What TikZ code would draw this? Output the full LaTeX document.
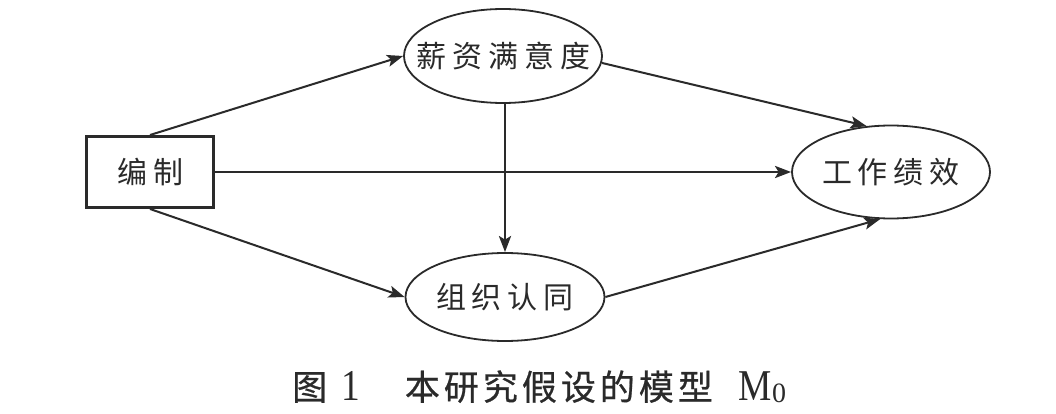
\documentclass[tikz,border=0pt]{standalone}
\usepackage{fontspec}
\setmainfont{Liberation Serif}
\newfontfamily\cjk{Noto Sans CJK SC}
\newfontfamily\cjkcap[FakeBold=0.6]{Noto Sans CJK SC}
\usetikzlibrary{arrows.meta,shapes.geometric}
\definecolor{ink}{HTML}{2A2A2A}
\newcommand\gp{\hspace{6pt}}
\newcommand\cg{\hspace{4pt}}
\begin{document}
\begin{tikzpicture}[x=1pt,y=-1pt,
  ellnode/.style={ellipse, draw=ink, line width=1.8pt, inner sep=0pt, text=ink,
    font=\cjk\fontsize{30}{30}\selectfont},
  boxnode/.style={rectangle, draw=ink, line width=3pt, inner sep=0pt, text=ink,
    minimum width=127pt, minimum height=71pt, font=\cjk\fontsize{30}{30}\selectfont},
  arr/.style={draw=ink, line width=2pt, -{Stealth[length=16pt,width=12pt,inset=3.5pt]}},
  arrthick/.style={arr, line width=2.8pt}
]
\useasboundingbox[fill=white] (0,0) rectangle (1056,414);

\node[boxnode] (bz) at (150,172) {\makebox[0pt]{编\gp 制}};
\node[ellnode, minimum width=198pt, minimum height=94pt] (xz) at (503,56) {\makebox[0pt]{薪\gp 资\gp 满\gp 意\gp 度}};
\node[ellnode, minimum width=199pt, minimum height=88pt] (zz) at (505,297) {\makebox[0pt]{组\gp 织\gp 认\gp 同}};
\node[ellnode, minimum width=198pt, minimum height=93pt] (gz) at (891,172) {\makebox[0pt]{工\gp 作\gp 绩\gp 效}};

\draw[arr] (bz.north) -- (xz.west);
\draw[arr] (bz.south) -- (zz.west);
\draw[arrthick] (bz.east) -- (gz.west);
\draw[arrthick] (zz.north |- xz.south) -- (zz.north);
\draw[arr] (xz.-4) -- (gz.118);
\draw[arr] (zz.east) -- (gz.257);

\node[anchor=base west, inner sep=0pt, text=ink] (cap) at (292,400)
  {{\cjkcap\fontsize{35}{35}\selectfont 图}\hspace{14pt}%
   \scalebox{0.85}[1]{\fontsize{44}{44}\selectfont 1}\hspace{45pt}%
   {\cjkcap\fontsize{35}{35}\selectfont 本\cg 研\cg 究\cg 假\cg 设\cg 的\cg 模\cg 型}\hspace{26pt}%
   \scalebox{0.85}[1]{\fontsize{44}{44}\selectfont M}\raisebox{-2pt}{\fontsize{28}{28}\selectfont 0}};
\end{tikzpicture}
\end{document}
